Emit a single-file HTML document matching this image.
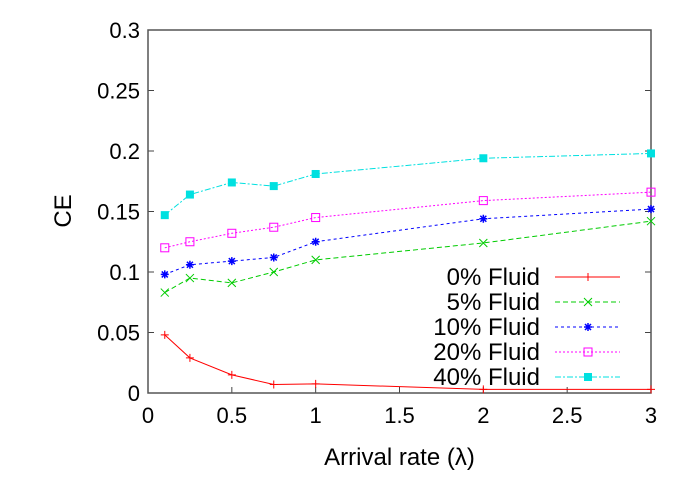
<!DOCTYPE html>
<html><head><meta charset="utf-8"><style>
body{margin:0;background:#fff}
svg text{font-family:"Liberation Sans",sans-serif;fill:#000}
</style></head><body>
<svg id="c" width="676" height="473"></svg>
<script>
const xs=[0.1,0.25,0.5,0.75,1,2,3];
const names=["0% Fluid","5% Fluid","10% Fluid","20% Fluid","40% Fluid"];
const s0=[0.048,0.029,0.015,0.007,0.0075,0.003,0.003];
const s5=[0.083,0.095,0.091,0.1,0.11,0.124,0.142];
const s10=[0.098,0.106,0.109,0.112,0.125,0.144,0.152];
const s20=[0.12,0.125,0.132,0.137,0.145,0.159,0.166];
const s40=[0.147,0.164,0.174,0.171,0.181,0.194,0.198];
const xTicks=[0,0.5,1,1.5,2,2.5,3];
const yTicks=[0,0.05,0.1,0.15,0.2,0.25,0.3];
const L=148,R=651,T=30,B=393;
const X=v=>L+(v-0)/3*(R-L), Y=v=>B-v/0.3*(B-T);
const svg=document.getElementById('c');const NS='http://www.w3.org/2000/svg';
function el(t,a,p){const e=document.createElementNS(NS,t);for(const k in a)e.setAttribute(k,a[k]);(p||svg).appendChild(e);return e;}
for(const t of xTicks){
 const l=el('line',{x1:X(t),x2:X(t),y1:B,y2:B-6,stroke:'#444'});
 
 
 const tx=el('text',{x:X(t),y:B+30,'text-anchor':'middle','font-size':22});tx.textContent=t;
 
 
}
for(const t of yTicks){
 el('line',{x1:L,x2:L+6,y1:Y(t),y2:Y(t),stroke:'#444'});
 el('line',{x1:R,x2:R-6,y1:Y(t),y2:Y(t),stroke:'#444'});
 const tx=el('text',{x:L-8,y:Y(t)+8,'text-anchor':'end','font-size':22});tx.textContent=t;
 
 
}
const fr=el('rect',{x:L,y:T,width:R-L,height:B-T,fill:'none',stroke:'#555','stroke-width':1.5});


const xl=el('text',{x:(L+R)/2,y:465,'text-anchor':'middle','font-size':24});xl.textContent='Arrival rate (λ)';


const yl=el('text',{x:0,y:0,'text-anchor':'middle','font-size':24,transform:'translate(71,211) rotate(-90)'});yl.textContent='CE';


const series=[s0,s5,s10,s20,s40];
const cols=['#ff0000','#00cc00','#0000ff','#ff00ff','#00e0e0'];
const dash=['','5,3','3,3','2,2','6,2,2,2'];
function marker(i,x,y,g){
 const c=cols[i];
 if(i==0){el('path',{d:`M${x-4},${y}H${x+4}M${x},${y-4}V${y+4}`,stroke:c},g);}
 else if(i==1){el('path',{d:`M${x-4},${y-4}L${x+4},${y+4}M${x-4},${y+4}L${x+4},${y-4}`,stroke:c},g);}
 else if(i==2){el('path',{d:`M${x-4},${y}H${x+4}M${x},${y-4}V${y+4}M${x-3},${y-3}L${x+3},${y+3}M${x-3},${y+3}L${x+3},${y-3}`,stroke:c,'stroke-width':1.5},g);}
 else if(i==3){el('rect',{x:x-4,y:y-4,width:8,height:8,fill:'none',stroke:c},g);}
 else {el('rect',{x:x-4,y:y-4,width:8,height:8,fill:c},g);}
}
series.forEach((s,i)=>{
 const g=el('g',{});
 
 
 el('polyline',{points:s.map((v,j)=>X(xs[j])+','+Y(v)).join(' '),fill:'none',stroke:cols[i],'stroke-dasharray':dash[i]},g);
 s.forEach((v,j)=>marker(i,X(xs[j]),Y(v),g));
 const ly=277+i*25;
 const le=el('g',{});
 
 
 const t=el('text',{x:540,y:ly+8,'text-anchor':'end','font-size':24},le);t.textContent=names[i];
 el('line',{x1:555,x2:620,y1:ly,y2:ly,stroke:cols[i],'stroke-dasharray':dash[i]},le);
 marker(i,588,ly,le);
});
</script>
</body></html>
